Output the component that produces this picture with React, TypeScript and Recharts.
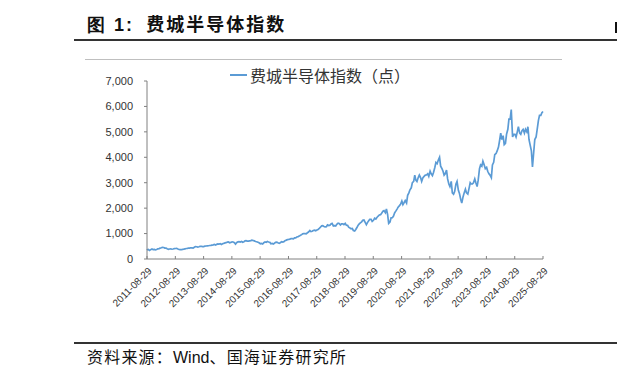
import { LineChart, Line, XAxis, YAxis } from 'recharts';

// 费城半导体指数, semi-monthly closes (1st and 15th), Sep 2011 – Aug 2025
const firstValue = 350; // 2011-08-29
const lastValue = 5800; // 2025-08-29
const soxValues = [
  // 2011 Sep-Dec
  360, 372, 338, 368, 392, 372, 378, 362,
  // 2012
  372, 398, 410, 428, 440, 458, 452, 430, 428, 402, 380, 392, 402, 384, 392, 410, 412, 420, 392, 380, 372, 366, 380, 386,
  // 2013
  396, 412, 420, 432, 428, 442, 436, 428, 462, 490, 482, 468, 480, 500, 502, 490, 488, 510, 512, 520, 522, 532, 534, 546,
  // 2014
  556, 572, 548, 576, 592, 588, 602, 568, 600, 612, 632, 642, 662, 672, 640, 652, 672, 668, 640, 582, 650, 672, 682, 668,
  // 2015
  690, 660, 682, 712, 722, 700, 702, 712, 722, 742, 730, 712, 690, 680, 660, 640, 600, 612, 590, 640, 672, 660, 690, 668,
  // 2016
  660, 600, 612, 590, 622, 652, 662, 640, 620, 642, 680, 668, 682, 722, 742, 762, 770, 782, 800, 798, 790, 832, 830, 868,
  // 2017
  882, 900, 932, 958, 990, 1002, 1000, 990, 1032, 1062, 1120, 1080, 1090, 1122, 1132, 1110, 1142, 1162, 1202, 1250, 1302, 1310, 1280, 1262,
  // 2018
  1270, 1342, 1318, 1330, 1380, 1402, 1300, 1312, 1300, 1362, 1410, 1398, 1340, 1382, 1380, 1350, 1400, 1330, 1322, 1250, 1222, 1190, 1200, 1120,
  // 2019
  1100, 1162, 1250, 1332, 1380, 1420, 1462, 1520, 1532, 1450, 1350, 1432, 1500, 1562, 1560, 1480, 1522, 1600, 1570, 1632, 1690, 1732, 1742, 1802,
  // 2020
  1880, 1902, 1822, 1970, 1750, 1400, 1452, 1620, 1622, 1682, 1820, 1882, 1962, 2040, 2100, 2152, 2280, 2140, 2222, 2300, 2200, 2502, 2600, 2720,
  // 2021
  2800, 3002, 3050, 3300, 3100, 3050, 3202, 3300, 3200, 3050, 3202, 3250, 3300, 3302, 3350, 3250, 3452, 3350, 3280, 3400, 3600, 3800, 3750, 3880,
  // 2022
  4000, 3650, 3550, 3450, 3300, 3352, 3500, 3150, 2950, 2850, 3050, 2600, 2550, 2650, 2950, 3050, 2700, 2580, 2350, 2200, 2450, 2600, 2750, 2600,
  // 2023
  2550, 2750, 3000, 2950, 2950, 3000, 3150, 3000, 2850, 3100, 3550, 3700, 3650, 3850, 3700, 3550, 3600, 3450, 3350, 3300, 3200, 3700, 3800, 4100,
  // 2024
  4150, 4250, 4400, 4650, 4950, 4700, 4850, 4500, 4550, 4900, 5100, 5500, 5500, 5880, 4800, 4900, 4900, 4800, 5000, 5200, 4950, 4900, 5050, 5100,
  // 2025 Jan-Aug
  4950, 5100, 5000, 5200, 4700, 4500, 4250, 3620, 4200, 4700, 4800, 5100, 5450, 5650, 5650, 5750,
];

const tickLabels = [
  '2011-08-29', '2012-08-29', '2013-08-29', '2014-08-29', '2015-08-29',
  '2016-08-29', '2017-08-29', '2018-08-29', '2019-08-29', '2020-08-29',
  '2021-08-29', '2022-08-29', '2023-08-29', '2024-08-29', '2025-08-29',
];
const yTicks = [0, 1000, 2000, 3000, 4000, 5000, 6000, 7000];
const seriesName = '费城半导体指数（点）';

const xTicks = tickLabels.map((s) => Date.parse(s));
const data = [
  { t: xTicks[0], v: firstValue },
  ...soxValues.map((v, i) => ({
    t: Date.UTC(2011, 8 + Math.floor(i / 2), i % 2 ? 15 : 1),
    v,
  })),
  { t: xTicks[xTicks.length - 1], v: lastValue },
];

const labelOf = (t: number) => tickLabels[xTicks.indexOf(t)] ?? '';

const XTick = (props: any) => {
  const { x, y, payload } = props;
  return (
    <g transform={`translate(${x + 3},${y + 7}) rotate(-45)`}>
      <text x={0} y={0} textAnchor="end" dy="0.35em" fontSize={10} fill="#333"
        fontFamily="'Liberation Sans', Arial, sans-serif">
        {labelOf(payload.value)}
      </text>
    </g>
  );
};

export default function App() {
  return (
    <div style={{ position: 'absolute', left: 0, top: 0, width: 617, height: 379, overflow: 'hidden', background: '#fff', fontFamily: "'Noto Sans CJK SC', sans-serif" }}>
      <div style={{ position: 'absolute', left: 87, top: 12, fontSize: 18, fontWeight: 700, letterSpacing: 2, color: '#111', whiteSpace: 'nowrap', lineHeight: '22px' }}>
        <span style={{ fontFamily: "'Liberation Sans', Arial, sans-serif" }}>图 1:</span>&nbsp;&nbsp;费城半导体指数
      </div>
      {/* clipped glyph of the neighbouring column */}
      <div style={{ position: 'absolute', left: 615, top: 22, width: 2, height: 11, background: '#111' }} />
      <div style={{ position: 'absolute', left: 74, top: 39, width: 543, height: 2, background: '#333' }} />
      <div style={{ position: 'absolute', left: 85, top: 59, width: 477, height: 1, background: '#bfbfbf' }} />

      {/* legend */}
      <div style={{ position: 'absolute', left: 230, top: 65, display: 'flex', alignItems: 'center', lineHeight: '20px' }}>
        <div style={{ width: 17, height: 2, background: '#5b9bd5', marginRight: 3 }} />
        <span style={{ fontSize: 16, color: '#333', whiteSpace: 'nowrap' }}>{seriesName}</span>
      </div>

      <div style={{ position: 'absolute', left: 0, top: 0 }}>
        <LineChart width={617} height={379} data={data} margin={{ top: 81, right: 74, bottom: 60, left: 0 }}>
          <XAxis
            dataKey="t"
            type="number"
            scale="time"
            domain={[xTicks[0], xTicks[xTicks.length - 1]]}
            ticks={xTicks}
            interval={0}
            height={60}
            axisLine={{ stroke: '#808080' }}
            tickLine={{ stroke: '#808080' }}
            tickSize={-3}
            tickMargin={6}
            tick={<XTick />}
          />
          <YAxis
            domain={[0, 7000]}
            ticks={yTicks}
            width={147}
            axisLine={{ stroke: '#808080' }}
            tickLine={{ stroke: '#808080' }}
            tickSize={3}
            tickMargin={11}
            tickFormatter={(v: number) => v.toLocaleString('en-US')}
            tick={{ fontSize: 11, fill: '#333', fontFamily: "'Liberation Sans', Arial, sans-serif" }}
          />
          <Line
            type="linear"
            dataKey="v"
            name={seriesName}
            stroke="#5b9bd5"
            strokeWidth={1.7}
            dot={false}
            isAnimationActive={false}
          />
        </LineChart>
      </div>

      <div style={{ position: 'absolute', left: 74, top: 342, width: 543, height: 2, background: '#333' }} />
      <div style={{ position: 'absolute', left: 87, top: 346, fontSize: 16, letterSpacing: 1.2, color: '#111', whiteSpace: 'nowrap', lineHeight: '20px' }}>
        资料来源：<span style={{ fontFamily: "'Liberation Sans', Arial, sans-serif", letterSpacing: 0 }}>Wind</span>、国海证券研究所
      </div>
    </div>
  );
}
